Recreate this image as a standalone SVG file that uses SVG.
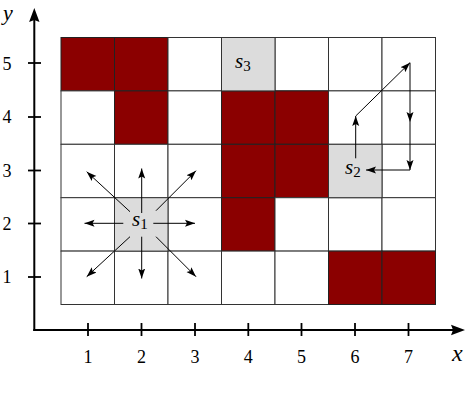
<svg xmlns="http://www.w3.org/2000/svg" width="468" height="398" viewBox="0 0 468 398">
<defs>
<style>
.cell{fill:#fff;stroke:#333;stroke-width:1}
.red{fill:#8b0000;stroke:#222;stroke-width:1}
.start{fill:#dcdcdc;stroke:#333;stroke-width:1}
.ax{stroke:#000;stroke-width:2;fill:none}
.tick{stroke:#000;stroke-width:1.8}
.arr{stroke:#000;stroke-width:1;fill:none;marker-end:url(#ah)}
text{font-family:'Liberation Serif','DejaVu Serif',serif;fill:#000}
.num{font-size:18px;text-anchor:middle}
.var{font-style:italic;font-size:24px}
.vy{font-size:22px}
.lbl{font-style:italic;font-size:21px}
.sub{font-style:normal;font-size:15px}
</style>
<marker id="ah" markerUnits="userSpaceOnUse" markerWidth="11" markerHeight="8" refX="10" refY="4" orient="auto">
<path d="M0,0.5 L10,4 L0,7.5 L2,4 z" fill="#000"/>
</marker>
</defs>
<rect width="468" height="398" fill="#fff"/>
<g id="grid">
<rect class="red" x="61" y="37.5" width="53.5" height="53.4"/>
<rect class="red" x="114.5" y="37.5" width="53.5" height="53.4"/>
<rect class="cell" x="168" y="37.5" width="53.5" height="53.4"/>
<rect class="cell" x="275" y="37.5" width="53.5" height="53.4"/>
<rect class="cell" x="328.5" y="37.5" width="53.5" height="53.4"/>
<rect class="cell" x="382" y="37.5" width="53.5" height="53.4"/>
<rect class="cell" x="61" y="90.9" width="53.5" height="53.4"/>
<rect class="red" x="114.5" y="90.9" width="53.5" height="53.4"/>
<rect class="cell" x="168" y="90.9" width="53.5" height="53.4"/>
<rect class="red" x="221.5" y="90.9" width="53.5" height="53.4"/>
<rect class="red" x="275" y="90.9" width="53.5" height="53.4"/>
<rect class="cell" x="328.5" y="90.9" width="53.5" height="53.4"/>
<rect class="cell" x="382" y="90.9" width="53.5" height="53.4"/>
<rect class="cell" x="61" y="144.3" width="53.5" height="53.4"/>
<rect class="cell" x="114.5" y="144.3" width="53.5" height="53.4"/>
<rect class="cell" x="168" y="144.3" width="53.5" height="53.4"/>
<rect class="red" x="221.5" y="144.3" width="53.5" height="53.4"/>
<rect class="red" x="275" y="144.3" width="53.5" height="53.4"/>
<rect class="cell" x="382" y="144.3" width="53.5" height="53.4"/>
<rect class="cell" x="61" y="197.7" width="53.5" height="53.4"/>
<rect class="cell" x="168" y="197.7" width="53.5" height="53.4"/>
<rect class="red" x="221.5" y="197.7" width="53.5" height="53.4"/>
<rect class="cell" x="275" y="197.7" width="53.5" height="53.4"/>
<rect class="cell" x="328.5" y="197.7" width="53.5" height="53.4"/>
<rect class="cell" x="382" y="197.7" width="53.5" height="53.4"/>
<rect class="cell" x="61" y="251.1" width="53.5" height="53.4"/>
<rect class="cell" x="114.5" y="251.1" width="53.5" height="53.4"/>
<rect class="cell" x="168" y="251.1" width="53.5" height="53.4"/>
<rect class="cell" x="221.5" y="251.1" width="53.5" height="53.4"/>
<rect class="cell" x="275" y="251.1" width="53.5" height="53.4"/>
<rect class="red" x="328.5" y="251.1" width="53.5" height="53.4"/>
<rect class="red" x="382" y="251.1" width="53.5" height="53.4"/>
</g>
<g id="s3">
<rect class="start" x="221.5" y="37.5" width="53.5" height="53.4"/>
<text class="lbl" x="235" y="68">s<tspan class="sub" dy="3">3</tspan></text>
</g>
<g id="s2">
<rect class="start" x="328.5" y="144.3" width="53.5" height="53.4"/>
<text class="lbl" x="345" y="174">s<tspan class="sub" dy="3">2</tspan></text>
</g>
<g id="s1">
<rect class="start" x="114.5" y="197.7" width="53.5" height="53.4"/>
<text class="lbl" x="132" y="226">s<tspan class="sub" dy="3">1</tspan></text>
</g>
<g id="axes">
<line class="ax" x1="34.3" y1="331" x2="34.3" y2="18"/>
<path d="M34.3,8 L39.5,22 L34.3,20 L29.1,22 z" fill="#000"/>
<line class="ax" x1="33.3" y1="330" x2="455" y2="330"/>
<path d="M465,330 L451,335.2 L453,330 L451,324.8 z" fill="#000"/>
<g class="tick">
<line x1="28" y1="63" x2="41" y2="63"/>
<line x1="28" y1="117" x2="41" y2="117"/>
<line x1="28" y1="170.5" x2="41" y2="170.5"/>
<line x1="28" y1="223.5" x2="41" y2="223.5"/>
<line x1="28" y1="277" x2="41" y2="277"/>
<line x1="88" y1="323" x2="88" y2="336"/>
<line x1="141.5" y1="323" x2="141.5" y2="336"/>
<line x1="195" y1="323" x2="195" y2="336"/>
<line x1="248.3" y1="323" x2="248.3" y2="336"/>
<line x1="301.5" y1="323" x2="301.5" y2="336"/>
<line x1="355" y1="323" x2="355" y2="336"/>
<line x1="408.5" y1="323" x2="408.5" y2="336"/>
</g>
<text class="num" x="7" y="70">5</text>
<text class="num" x="7" y="123">4</text>
<text class="num" x="7" y="176.5">3</text>
<text class="num" x="7" y="229.5">2</text>
<text class="num" x="7" y="283">1</text>
<text class="num" x="88" y="363">1</text>
<text class="num" x="141.5" y="363">2</text>
<text class="num" x="195" y="363">3</text>
<text class="num" x="248.3" y="363">4</text>
<text class="num" x="301.5" y="363">5</text>
<text class="num" x="355" y="363">6</text>
<text class="num" x="408.5" y="363">7</text>
<text class="var vy" x="3" y="20">y</text>
<text class="var" x="452" y="361">x</text>
</g>
<g id="connectors">
<line class="arr" x1="141.7" y1="213" x2="141.7" y2="168.5"/>
<line class="arr" x1="141.7" y1="236.7" x2="141.7" y2="278.5"/>
<line class="arr" x1="123.3" y1="223.3" x2="84.5" y2="223.3"/>
<line class="arr" x1="153.3" y1="223.3" x2="195" y2="223.3"/>
<line class="arr" x1="130" y1="211.7" x2="86.7" y2="171.7"/>
<line class="arr" x1="156" y1="210.7" x2="196" y2="170.7"/>
<line class="arr" x1="130" y1="236.7" x2="86.7" y2="276.7"/>
<line class="arr" x1="156" y1="236.7" x2="196" y2="276.7"/>
<line class="arr" x1="355.7" y1="158.3" x2="355.7" y2="116"/>
<line class="arr" x1="355.7" y1="116" x2="410" y2="62.7"/>
<line class="arr" x1="410" y1="62.7" x2="410" y2="122"/>
<line class="arr" x1="410" y1="122" x2="410" y2="170"/>
<line class="arr" x1="410" y1="170" x2="366" y2="170"/>
</g>
</svg>
